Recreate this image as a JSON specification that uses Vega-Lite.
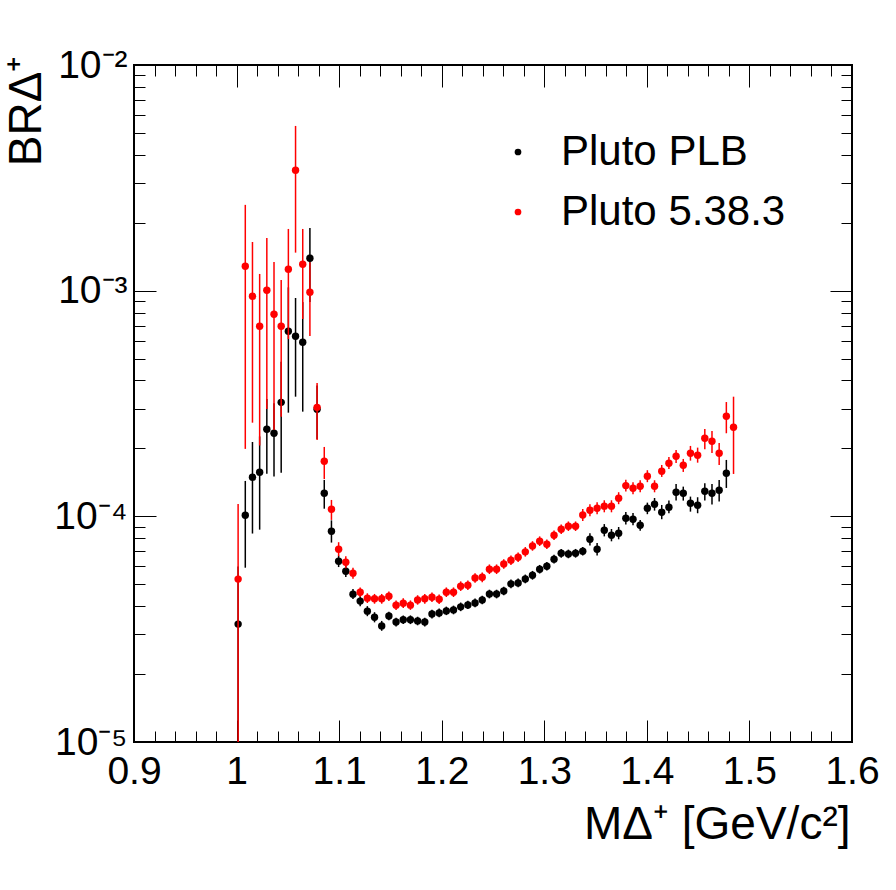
{
  "$schema": "https://vega.github.io/schema/vega-lite/v6.json",
  "width": 718,
  "height": 677,
  "autosize": {"type": "none"},
  "padding": {"left": 134, "top": 65, "right": 44, "bottom": 148},
  "config": {
    "view": {"stroke": "#000000", "strokeWidth": 2},
    "font": "Liberation Sans",
    "axis": {
      "domain": false,
      "grid": false,
      "tickColor": "#000000",
      "tickWidth": 1,
      "labelColor": "#000000",
      "titleColor": "#000000",
      "labelFont": "Liberation Sans",
      "titleFont": "Liberation Sans",
      "titleFontWeight": "normal"
    }
  },
  "data": {
    "values": [
      {"s": "Pluto PLB", "m": 1.0015, "br": 3.33e-5, "lo": 1.0e-5, "hi": 6.0e-5},
      {"s": "Pluto PLB", "m": 1.0085, "br": 1.011e-4, "lo": 5.92e-5, "hi": 1.435e-4},
      {"s": "Pluto PLB", "m": 1.0155, "br": 1.49e-4, "lo": 8.39e-5, "hi": 2.135e-4},
      {"s": "Pluto PLB", "m": 1.0225, "br": 1.568e-4, "lo": 8.73e-5, "hi": 2.26e-4},
      {"s": "Pluto PLB", "m": 1.0295, "br": 2.43e-4, "lo": 1.546e-4, "hi": 3.31e-4},
      {"s": "Pluto PLB", "m": 1.0365, "br": 2.334e-4, "lo": 1.5e-4, "hi": 3.17e-4},
      {"s": "Pluto PLB", "m": 1.0435, "br": 3.2e-4, "lo": 1.562e-4, "hi": 4.84e-4},
      {"s": "Pluto PLB", "m": 1.0505, "br": 6.61e-4, "lo": 2.88e-4, "hi": 1.034e-3},
      {"s": "Pluto PLB", "m": 1.0575, "br": 6.28e-4, "lo": 3.39e-4, "hi": 9.28e-4},
      {"s": "Pluto PLB", "m": 1.0645, "br": 5.91e-4, "lo": 2.91e-4, "hi": 8.9e-4},
      {"s": "Pluto PLB", "m": 1.0715, "br": 1.392e-3, "lo": 8.9e-4, "hi": 1.896e-3},
      {"s": "Pluto PLB", "m": 1.0785, "br": 2.98e-4, "lo": 2.2e-4, "hi": 3.8e-4},
      {"s": "Pluto PLB", "m": 1.0855, "br": 1.266e-4, "lo": 1.081e-4, "hi": 1.45e-4},
      {"s": "Pluto PLB", "m": 1.0925, "br": 8.59e-5, "lo": 7.65e-5, "hi": 9.6e-5},
      {"s": "Pluto PLB", "m": 1.0995, "br": 6.32e-5, "lo": 5.96e-5, "hi": 6.7e-5},
      {"s": "Pluto PLB", "m": 1.1065, "br": 5.71e-5, "lo": 5.39e-5, "hi": 6.05e-5},
      {"s": "Pluto PLB", "m": 1.1135, "br": 4.52e-5, "lo": 4.3e-5, "hi": 4.76e-5},
      {"s": "Pluto PLB", "m": 1.1205, "br": 4.21e-5, "lo": 4.0e-5, "hi": 4.43e-5},
      {"s": "Pluto PLB", "m": 1.1275, "br": 3.8e-5, "lo": 3.61e-5, "hi": 4.0e-5},
      {"s": "Pluto PLB", "m": 1.1345, "br": 3.57e-5, "lo": 3.39e-5, "hi": 3.76e-5},
      {"s": "Pluto PLB", "m": 1.1415, "br": 3.27e-5, "lo": 3.11e-5, "hi": 3.44e-5},
      {"s": "Pluto PLB", "m": 1.1485, "br": 3.62e-5, "lo": 3.46e-5, "hi": 3.78e-5},
      {"s": "Pluto PLB", "m": 1.1555, "br": 3.4e-5, "lo": 3.25e-5, "hi": 3.55e-5},
      {"s": "Pluto PLB", "m": 1.1625, "br": 3.48e-5, "lo": 3.33e-5, "hi": 3.64e-5},
      {"s": "Pluto PLB", "m": 1.1695, "br": 3.48e-5, "lo": 3.33e-5, "hi": 3.64e-5},
      {"s": "Pluto PLB", "m": 1.1765, "br": 3.44e-5, "lo": 3.29e-5, "hi": 3.59e-5},
      {"s": "Pluto PLB", "m": 1.1835, "br": 3.4e-5, "lo": 3.25e-5, "hi": 3.55e-5},
      {"s": "Pluto PLB", "m": 1.1905, "br": 3.69e-5, "lo": 3.53e-5, "hi": 3.86e-5},
      {"s": "Pluto PLB", "m": 1.1975, "br": 3.73e-5, "lo": 3.57e-5, "hi": 3.9e-5},
      {"s": "Pluto PLB", "m": 1.2045, "br": 3.81e-5, "lo": 3.65e-5, "hi": 3.98e-5},
      {"s": "Pluto PLB", "m": 1.2115, "br": 3.85e-5, "lo": 3.68e-5, "hi": 4.02e-5},
      {"s": "Pluto PLB", "m": 1.2185, "br": 3.97e-5, "lo": 3.8e-5, "hi": 4.15e-5},
      {"s": "Pluto PLB", "m": 1.2255, "br": 4.05e-5, "lo": 3.88e-5, "hi": 4.23e-5},
      {"s": "Pluto PLB", "m": 1.2325, "br": 4.13e-5, "lo": 3.95e-5, "hi": 4.32e-5},
      {"s": "Pluto PLB", "m": 1.2395, "br": 4.26e-5, "lo": 4.08e-5, "hi": 4.45e-5},
      {"s": "Pluto PLB", "m": 1.2465, "br": 4.53e-5, "lo": 4.33e-5, "hi": 4.73e-5},
      {"s": "Pluto PLB", "m": 1.2535, "br": 4.53e-5, "lo": 4.33e-5, "hi": 4.73e-5},
      {"s": "Pluto PLB", "m": 1.2605, "br": 4.67e-5, "lo": 4.47e-5, "hi": 4.88e-5},
      {"s": "Pluto PLB", "m": 1.2675, "br": 5.02e-5, "lo": 4.8e-5, "hi": 5.25e-5},
      {"s": "Pluto PLB", "m": 1.2745, "br": 5.07e-5, "lo": 4.85e-5, "hi": 5.3e-5},
      {"s": "Pluto PLB", "m": 1.2815, "br": 5.28e-5, "lo": 5.05e-5, "hi": 5.52e-5},
      {"s": "Pluto PLB", "m": 1.2885, "br": 5.48e-5, "lo": 5.24e-5, "hi": 5.73e-5},
      {"s": "Pluto PLB", "m": 1.2955, "br": 5.83e-5, "lo": 5.58e-5, "hi": 6.09e-5},
      {"s": "Pluto PLB", "m": 1.3025, "br": 6.01e-5, "lo": 5.75e-5, "hi": 6.28e-5},
      {"s": "Pluto PLB", "m": 1.3095, "br": 6.46e-5, "lo": 6.18e-5, "hi": 6.75e-5},
      {"s": "Pluto PLB", "m": 1.3165, "br": 6.86e-5, "lo": 6.56e-5, "hi": 7.17e-5},
      {"s": "Pluto PLB", "m": 1.3235, "br": 6.81e-5, "lo": 6.52e-5, "hi": 7.12e-5},
      {"s": "Pluto PLB", "m": 1.3305, "br": 6.86e-5, "lo": 6.56e-5, "hi": 7.17e-5},
      {"s": "Pluto PLB", "m": 1.3375, "br": 7.0e-5, "lo": 6.7e-5, "hi": 7.32e-5},
      {"s": "Pluto PLB", "m": 1.3445, "br": 7.91e-5, "lo": 7.43e-5, "hi": 8.42e-5},
      {"s": "Pluto PLB", "m": 1.3515, "br": 7.15e-5, "lo": 6.71e-5, "hi": 7.61e-5},
      {"s": "Pluto PLB", "m": 1.3585, "br": 8.68e-5, "lo": 8.15e-5, "hi": 9.24e-5},
      {"s": "Pluto PLB", "m": 1.3655, "br": 8.25e-5, "lo": 7.75e-5, "hi": 8.79e-5},
      {"s": "Pluto PLB", "m": 1.3725, "br": 8.42e-5, "lo": 7.91e-5, "hi": 8.97e-5},
      {"s": "Pluto PLB", "m": 1.3795, "br": 9.81e-5, "lo": 9.21e-5, "hi": 1.045e-4},
      {"s": "Pluto PLB", "m": 1.3865, "br": 9.71e-5, "lo": 9.12e-5, "hi": 1.034e-4},
      {"s": "Pluto PLB", "m": 1.3935, "br": 9.13e-5, "lo": 8.64e-5, "hi": 9.64e-5},
      {"s": "Pluto PLB", "m": 1.4005, "br": 1.086e-4, "lo": 1.022e-4, "hi": 1.15e-4},
      {"s": "Pluto PLB", "m": 1.4075, "br": 1.131e-4, "lo": 1.06e-4, "hi": 1.206e-4},
      {"s": "Pluto PLB", "m": 1.4145, "br": 1.043e-4, "lo": 9.71e-5, "hi": 1.123e-4},
      {"s": "Pluto PLB", "m": 1.4215, "br": 1.097e-4, "lo": 1.032e-4, "hi": 1.174e-4},
      {"s": "Pluto PLB", "m": 1.4285, "br": 1.279e-4, "lo": 1.174e-4, "hi": 1.392e-4},
      {"s": "Pluto PLB", "m": 1.4355, "br": 1.266e-4, "lo": 1.174e-4, "hi": 1.354e-4},
      {"s": "Pluto PLB", "m": 1.4425, "br": 1.143e-4, "lo": 1.049e-4, "hi": 1.223e-4},
      {"s": "Pluto PLB", "m": 1.4495, "br": 1.12e-4, "lo": 1.032e-4, "hi": 1.215e-4},
      {"s": "Pluto PLB", "m": 1.4565, "br": 1.292e-4, "lo": 1.174e-4, "hi": 1.402e-4},
      {"s": "Pluto PLB", "m": 1.4635, "br": 1.266e-4, "lo": 1.127e-4, "hi": 1.392e-4},
      {"s": "Pluto PLB", "m": 1.4705, "br": 1.305e-4, "lo": 1.162e-4, "hi": 1.45e-4},
      {"s": "Pluto PLB", "m": 1.4775, "br": 1.552e-4, "lo": 1.336e-4, "hi": 1.778e-4},
      {"s": "Pluto 5.38.3", "m": 1.0015, "br": 5.27e-5, "lo": 1.0e-5, "hi": 1.135e-4},
      {"s": "Pluto 5.38.3", "m": 1.0085, "br": 1.282e-3, "lo": 1.99e-4, "hi": 2.4e-3},
      {"s": "Pluto 5.38.3", "m": 1.0155, "br": 9.45e-4, "lo": 2.6e-4, "hi": 1.643e-3},
      {"s": "Pluto 5.38.3", "m": 1.0225, "br": 6.96e-4, "lo": 2.06e-4, "hi": 1.186e-3},
      {"s": "Pluto 5.38.3", "m": 1.0295, "br": 1.004e-3, "lo": 2.99e-4, "hi": 1.712e-3},
      {"s": "Pluto 5.38.3", "m": 1.0365, "br": 7.86e-4, "lo": 2.41e-4, "hi": 1.341e-3},
      {"s": "Pluto 5.38.3", "m": 1.0435, "br": 6.96e-4, "lo": 2.76e-4, "hi": 1.115e-3},
      {"s": "Pluto 5.38.3", "m": 1.0505, "br": 1.244e-3, "lo": 6.1e-4, "hi": 1.877e-3},
      {"s": "Pluto 5.38.3", "m": 1.0575, "br": 3.416e-3, "lo": 1.474e-3, "hi": 5.37e-3},
      {"s": "Pluto 5.38.3", "m": 1.0645, "br": 1.309e-3, "lo": 7.49e-4, "hi": 1.877e-3},
      {"s": "Pluto 5.38.3", "m": 1.0715, "br": 9.84e-4, "lo": 6.3e-4, "hi": 1.338e-3},
      {"s": "Pluto 5.38.3", "m": 1.0785, "br": 3.04e-4, "lo": 2.18e-4, "hi": 3.9e-4},
      {"s": "Pluto 5.38.3", "m": 1.0855, "br": 1.754e-4, "lo": 1.464e-4, "hi": 2.03e-4},
      {"s": "Pluto 5.38.3", "m": 1.0925, "br": 1.075e-4, "lo": 9.64e-5, "hi": 1.182e-4},
      {"s": "Pluto 5.38.3", "m": 1.0995, "br": 7.15e-5, "lo": 6.66e-5, "hi": 7.68e-5},
      {"s": "Pluto 5.38.3", "m": 1.1065, "br": 6.26e-5, "lo": 5.89e-5, "hi": 6.65e-5},
      {"s": "Pluto 5.38.3", "m": 1.1135, "br": 5.6e-5, "lo": 5.29e-5, "hi": 5.92e-5},
      {"s": "Pluto 5.38.3", "m": 1.1205, "br": 4.61e-5, "lo": 4.39e-5, "hi": 4.84e-5},
      {"s": "Pluto 5.38.3", "m": 1.1275, "br": 4.34e-5, "lo": 4.13e-5, "hi": 4.56e-5},
      {"s": "Pluto 5.38.3", "m": 1.1345, "br": 4.31e-5, "lo": 4.1e-5, "hi": 4.53e-5},
      {"s": "Pluto 5.38.3", "m": 1.1415, "br": 4.31e-5, "lo": 4.1e-5, "hi": 4.53e-5},
      {"s": "Pluto 5.38.3", "m": 1.1485, "br": 4.43e-5, "lo": 4.22e-5, "hi": 4.65e-5},
      {"s": "Pluto 5.38.3", "m": 1.1555, "br": 4.04e-5, "lo": 3.85e-5, "hi": 4.24e-5},
      {"s": "Pluto 5.38.3", "m": 1.1625, "br": 4.12e-5, "lo": 3.92e-5, "hi": 4.33e-5},
      {"s": "Pluto 5.38.3", "m": 1.1695, "br": 4.04e-5, "lo": 3.85e-5, "hi": 4.24e-5},
      {"s": "Pluto 5.38.3", "m": 1.1765, "br": 4.26e-5, "lo": 4.06e-5, "hi": 4.47e-5},
      {"s": "Pluto 5.38.3", "m": 1.1835, "br": 4.31e-5, "lo": 4.1e-5, "hi": 4.53e-5},
      {"s": "Pluto 5.38.3", "m": 1.1905, "br": 4.38e-5, "lo": 4.17e-5, "hi": 4.6e-5},
      {"s": "Pluto 5.38.3", "m": 1.1975, "br": 4.29e-5, "lo": 4.09e-5, "hi": 4.5e-5},
      {"s": "Pluto 5.38.3", "m": 1.2045, "br": 4.61e-5, "lo": 4.39e-5, "hi": 4.84e-5},
      {"s": "Pluto 5.38.3", "m": 1.2115, "br": 4.61e-5, "lo": 4.39e-5, "hi": 4.84e-5},
      {"s": "Pluto 5.38.3", "m": 1.2185, "br": 4.9e-5, "lo": 4.67e-5, "hi": 5.15e-5},
      {"s": "Pluto 5.38.3", "m": 1.2255, "br": 4.95e-5, "lo": 4.71e-5, "hi": 5.2e-5},
      {"s": "Pluto 5.38.3", "m": 1.2325, "br": 5.33e-5, "lo": 5.08e-5, "hi": 5.6e-5},
      {"s": "Pluto 5.38.3", "m": 1.2395, "br": 5.37e-5, "lo": 5.11e-5, "hi": 5.64e-5},
      {"s": "Pluto 5.38.3", "m": 1.2465, "br": 5.83e-5, "lo": 5.55e-5, "hi": 6.12e-5},
      {"s": "Pluto 5.38.3", "m": 1.2535, "br": 5.83e-5, "lo": 5.55e-5, "hi": 6.12e-5},
      {"s": "Pluto 5.38.3", "m": 1.2605, "br": 6.15e-5, "lo": 5.86e-5, "hi": 6.46e-5},
      {"s": "Pluto 5.38.3", "m": 1.2675, "br": 6.39e-5, "lo": 6.09e-5, "hi": 6.71e-5},
      {"s": "Pluto 5.38.3", "m": 1.2745, "br": 6.59e-5, "lo": 6.28e-5, "hi": 6.92e-5},
      {"s": "Pluto 5.38.3", "m": 1.2815, "br": 6.96e-5, "lo": 6.63e-5, "hi": 7.31e-5},
      {"s": "Pluto 5.38.3", "m": 1.2885, "br": 7.39e-5, "lo": 7.04e-5, "hi": 7.76e-5},
      {"s": "Pluto 5.38.3", "m": 1.2955, "br": 7.76e-5, "lo": 7.39e-5, "hi": 8.15e-5},
      {"s": "Pluto 5.38.3", "m": 1.3025, "br": 7.52e-5, "lo": 7.16e-5, "hi": 7.9e-5},
      {"s": "Pluto 5.38.3", "m": 1.3095, "br": 8.25e-5, "lo": 7.86e-5, "hi": 8.66e-5},
      {"s": "Pluto 5.38.3", "m": 1.3165, "br": 8.77e-5, "lo": 8.35e-5, "hi": 9.21e-5},
      {"s": "Pluto 5.38.3", "m": 1.3235, "br": 9.04e-5, "lo": 8.61e-5, "hi": 9.49e-5},
      {"s": "Pluto 5.38.3", "m": 1.3305, "br": 9.04e-5, "lo": 8.61e-5, "hi": 9.49e-5},
      {"s": "Pluto 5.38.3", "m": 1.3375, "br": 1.014e-4, "lo": 9.54e-5, "hi": 1.078e-4},
      {"s": "Pluto 5.38.3", "m": 1.3445, "br": 1.064e-4, "lo": 1.001e-4, "hi": 1.131e-4},
      {"s": "Pluto 5.38.3", "m": 1.3515, "br": 1.086e-4, "lo": 1.022e-4, "hi": 1.154e-4},
      {"s": "Pluto 5.38.3", "m": 1.3585, "br": 1.108e-4, "lo": 1.042e-4, "hi": 1.178e-4},
      {"s": "Pluto 5.38.3", "m": 1.3655, "br": 1.108e-4, "lo": 1.042e-4, "hi": 1.178e-4},
      {"s": "Pluto 5.38.3", "m": 1.3725, "br": 1.203e-4, "lo": 1.132e-4, "hi": 1.279e-4},
      {"s": "Pluto 5.38.3", "m": 1.3795, "br": 1.368e-4, "lo": 1.287e-4, "hi": 1.454e-4},
      {"s": "Pluto 5.38.3", "m": 1.3865, "br": 1.332e-4, "lo": 1.253e-4, "hi": 1.416e-4},
      {"s": "Pluto 5.38.3", "m": 1.3935, "br": 1.359e-4, "lo": 1.278e-4, "hi": 1.445e-4},
      {"s": "Pluto 5.38.3", "m": 1.4005, "br": 1.506e-4, "lo": 1.417e-4, "hi": 1.601e-4},
      {"s": "Pluto 5.38.3", "m": 1.4075, "br": 1.359e-4, "lo": 1.278e-4, "hi": 1.445e-4},
      {"s": "Pluto 5.38.3", "m": 1.4145, "br": 1.584e-4, "lo": 1.495e-4, "hi": 1.689e-4},
      {"s": "Pluto 5.38.3", "m": 1.4215, "br": 1.719e-4, "lo": 1.622e-4, "hi": 1.833e-4},
      {"s": "Pluto 5.38.3", "m": 1.4285, "br": 1.846e-4, "lo": 1.724e-4, "hi": 1.969e-4},
      {"s": "Pluto 5.38.3", "m": 1.4355, "br": 1.684e-4, "lo": 1.573e-4, "hi": 1.796e-4},
      {"s": "Pluto 5.38.3", "m": 1.4425, "br": 1.904e-4, "lo": 1.765e-4, "hi": 2.051e-4},
      {"s": "Pluto 5.38.3", "m": 1.4495, "br": 1.865e-4, "lo": 1.729e-4, "hi": 2.016e-4},
      {"s": "Pluto 5.38.3", "m": 1.4565, "br": 2.218e-4, "lo": 1.983e-4, "hi": 2.438e-4},
      {"s": "Pluto 5.38.3", "m": 1.4635, "br": 2.151e-4, "lo": 1.91e-4, "hi": 2.39e-4},
      {"s": "Pluto 5.38.3", "m": 1.4705, "br": 1.904e-4, "lo": 1.689e-4, "hi": 2.115e-4},
      {"s": "Pluto 5.38.3", "m": 1.4775, "br": 2.777e-4, "lo": 2.334e-4, "hi": 3.21e-4},
      {"s": "Pluto 5.38.3", "m": 1.4845, "br": 2.482e-4, "lo": 1.541e-4, "hi": 3.39e-4}
    ]
  },
  "layer": [
    {
      "transform": [{"filter": "datum.s == 'Pluto PLB'"}],
      "mark": {"type": "rule", "strokeWidth": 1.5, "color": "#000000", "clip": true},
      "encoding": {
        "x": {
          "field": "m",
          "type": "quantitative",
          "scale": {"domain": [0.9, 1.6], "nice": false, "zero": false},
          "axis": {
            "orient": "bottom",
            "values": [0.9, 1, 1.1, 1.2, 1.3, 1.4, 1.5, 1.6],
            "format": "~g",
            "tickSize": -22,
            "labelFontSize": 39,
            "labelPadding": 32,
            "labelFlush": false,
            "labelOverlap": false,
            "title": "MΔ⁺ [GeV/c²]",
            "titleFontSize": 46,
            "titleX": 716,
            "titleY": 96,
            "titleAlign": "right",
            "titleBaseline": "alphabetic"
          }
        },
        "y": {
          "field": "lo",
          "type": "quantitative",
          "scale": {"type": "log", "domain": [0.00001, 0.01], "nice": false},
          "axis": {
            "orient": "left",
            "values": [0.00001, 0.0001, 0.001, 0.01],
            "labelExpr": "datum.value > 0.005 ? '10⁻²' : datum.value > 0.0005 ? '10⁻³' : datum.value > 0.00005 ? '10⁻⁴' : '10⁻⁵'",
            "tickSize": -22,
            "labelFontSize": 39,
            "labelPadding": 29,
            "labelOverlap": false,
            "title": "BRΔ⁺",
            "titleFontSize": 46,
            "titleAngle": -90,
            "titleX": -108,
            "titleY": -10,
            "titleAlign": "right",
            "titleBaseline": "middle"
          }
        },
        "y2": {"field": "hi"}
      }
    },
    {
      "transform": [{"filter": "datum.s == 'Pluto PLB'"}],
      "mark": {"type": "circle", "size": 55, "opacity": 1, "clip": true},
      "encoding": {
        "x": {
          "field": "m",
          "type": "quantitative",
          "scale": {"domain": [0.9, 1.6], "nice": false, "zero": false},
          "axis": {
            "orient": "bottom",
            "values": [0.92, 0.94, 0.96, 0.98, 1.02, 1.04, 1.06, 1.08, 1.12, 1.14, 1.16, 1.18, 1.22, 1.24, 1.26, 1.28, 1.32, 1.34, 1.36, 1.38, 1.42, 1.44, 1.46, 1.48, 1.52, 1.54, 1.56, 1.58],
            "tickSize": -11,
            "labels": false,
            "title": null
          }
        },
        "y": {
          "field": "br",
          "type": "quantitative",
          "scale": {"type": "log", "domain": [0.00001, 0.01], "nice": false},
          "axis": {
            "orient": "left",
            "values": [0.00002, 0.00003, 0.00004, 0.00005, 0.00006, 0.00007, 0.00008, 0.00009, 0.0002, 0.0003, 0.0004, 0.0005, 0.0006, 0.0007, 0.0008, 0.0009, 0.002, 0.003, 0.004, 0.005, 0.006, 0.007, 0.008, 0.009],
            "tickSize": -11,
            "labels": false,
            "title": null
          }
        },
        "color": {
          "field": "s",
          "type": "nominal",
          "scale": {"domain": ["Pluto PLB", "Pluto 5.38.3"], "range": ["#000000", "#ff0000"]},
          "legend": {
            "orient": "none",
            "legendX": 363,
            "legendY": 66,
            "title": null,
            "padding": 0,
            "symbolType": "circle",
            "symbolSize": 45,
            "symbolStrokeWidth": 0,
            "labelFont": "Liberation Sans",
            "labelFontSize": 42,
            "labelColor": "#000000",
            "labelOffset": 22,
            "rowPadding": 18,
            "labelLimit": 400
          }
        }
      }
    },
    {
      "transform": [{"filter": "datum.s == 'Pluto 5.38.3'"}],
      "mark": {"type": "rule", "strokeWidth": 1.5, "color": "#ff0000", "clip": true},
      "encoding": {
        "x": {
          "field": "m",
          "type": "quantitative",
          "scale": {"domain": [0.9, 1.6], "nice": false, "zero": false},
          "axis": {
            "orient": "top",
            "values": [0.9, 1, 1.1, 1.2, 1.3, 1.4, 1.5, 1.6],
            "tickSize": -22,
            "labels": false,
            "title": null
          }
        },
        "y": {
          "field": "lo",
          "type": "quantitative",
          "scale": {"type": "log", "domain": [0.00001, 0.01], "nice": false},
          "axis": {
            "orient": "right",
            "values": [0.00001, 0.0001, 0.001, 0.01],
            "tickSize": -22,
            "labels": false,
            "title": null
          }
        },
        "y2": {"field": "hi"}
      }
    },
    {
      "transform": [{"filter": "datum.s == 'Pluto 5.38.3'"}],
      "mark": {"type": "circle", "size": 55, "opacity": 1, "clip": true},
      "encoding": {
        "x": {
          "field": "m",
          "type": "quantitative",
          "scale": {"domain": [0.9, 1.6], "nice": false, "zero": false},
          "axis": {
            "orient": "top",
            "values": [0.92, 0.94, 0.96, 0.98, 1.02, 1.04, 1.06, 1.08, 1.12, 1.14, 1.16, 1.18, 1.22, 1.24, 1.26, 1.28, 1.32, 1.34, 1.36, 1.38, 1.42, 1.44, 1.46, 1.48, 1.52, 1.54, 1.56, 1.58],
            "tickSize": -11,
            "labels": false,
            "title": null
          }
        },
        "y": {
          "field": "br",
          "type": "quantitative",
          "scale": {"type": "log", "domain": [0.00001, 0.01], "nice": false},
          "axis": {
            "orient": "right",
            "values": [0.00002, 0.00003, 0.00004, 0.00005, 0.00006, 0.00007, 0.00008, 0.00009, 0.0002, 0.0003, 0.0004, 0.0005, 0.0006, 0.0007, 0.0008, 0.0009, 0.002, 0.003, 0.004, 0.005, 0.006, 0.007, 0.008, 0.009],
            "tickSize": -11,
            "labels": false,
            "title": null
          }
        },
        "color": {
          "field": "s",
          "type": "nominal",
          "scale": {"domain": ["Pluto PLB", "Pluto 5.38.3"], "range": ["#000000", "#ff0000"]},
          "legend": {
            "orient": "none",
            "legendX": 363,
            "legendY": 66,
            "title": null,
            "padding": 0,
            "symbolType": "circle",
            "symbolSize": 45,
            "symbolStrokeWidth": 0,
            "labelFont": "Liberation Sans",
            "labelFontSize": 42,
            "labelColor": "#000000",
            "labelOffset": 22,
            "rowPadding": 18,
            "labelLimit": 400
          }
        }
      }
    }
  ],
  "resolve": {"axis": {"x": "independent", "y": "independent"}}
}
